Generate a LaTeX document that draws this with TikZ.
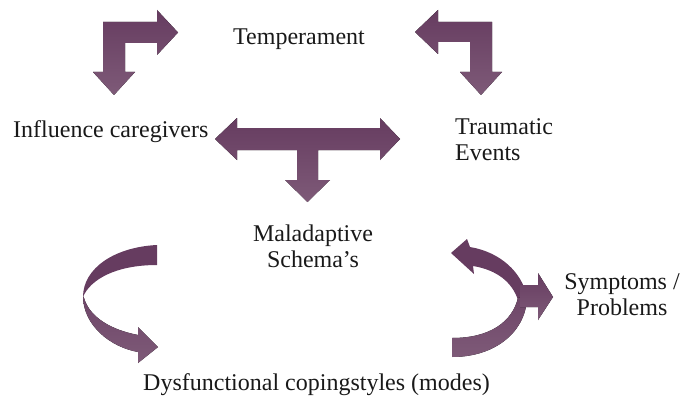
\documentclass[tikz,border=0pt]{standalone}
\usepackage{fontspec}
\setmainfont{Liberation Serif}
\begin{document}
\begin{tikzpicture}[x=1pt,y=-1pt,
  label/.style={inner sep=0pt,font=\fontsize{24}{25.5}\selectfont,text=black!90},
  blockarrow/.style={top color=arrdark,bottom color=arrlight,draw=none},
  bandA/.style={fill=arrdark,draw=none},
  bandB/.style={top color=arrmid,bottom color=arrlight,draw=none}]
\definecolor{arrdark}{RGB}{102,60,96}
\definecolor{arrmid}{RGB}{110,70,104}
\definecolor{arrlight}{RGB}{126,90,120}
\useasboundingbox (0,0) rectangle (687,401);

% labels (two-line labels are anchored on the baseline of their last line)
\node[label,anchor=base west] (temp) at (233,45) {Temperament};
\node[label,anchor=base west] (care) at (13,137) {Influence caregivers};
\node[label,anchor=base west,align=left] (trauma) at (455,160) {Traumatic\\Events};
\node[label,anchor=base,align=center] (schema) at (313,267) {Maladaptive\\Schema’s};
\node[label,anchor=base,align=center] (sympt) at (622,315) {Symptoms /\\Problems};
\node[label,anchor=base west] (coping) at (143,390) {Dysfunctional copingstyles (modes)};

% bent arrow, top left
\fill[blockarrow] (103,22) -- (157,22) -- (157,10) -- (178,32.5) -- (157,55) -- (157,43)
  -- (125,43) -- (125,72) -- (135,72) -- (114,95) -- (93,72) -- (103,72) -- cycle;

% bent arrow, top right
\fill[blockarrow] (492,22) -- (438,22) -- (438,10) -- (415,32) -- (438,54) -- (438,42)
  -- (470,42) -- (470,72) -- (460,72) -- (481,95) -- (502,72) -- (492,72) -- cycle;

% T-shaped arrow in the middle
\fill[blockarrow] (237,128) -- (237,118) -- (215,139) -- (237,160) -- (237,150)
  -- (297,150) -- (297,180) -- (285,180) -- (307.5,202) -- (330,180) -- (318,180)
  -- (318,150) -- (380,150) -- (380,160) -- (400,139) -- (380,118) -- (380,128) -- cycle;

% twisted curved arrow, left: upper band
\fill[bandA] (157,245) .. controls (115,247) and (83,268) .. (83,297)
  .. controls (90,280) and (115,265) .. (157,265) -- cycle;
% lower band with head
\fill[bandB] (83,296) .. controls (83,325) and (110,347) .. (138,352)
  -- (138,363) -- (158,347) -- (138,327) -- (138,335)
  .. controls (112,330) and (90,318) .. (84,298) -- cycle;

% curved arrow, right: upper band with head pointing back
\fill[bandA] (451,253) -- (467,239) -- (470,247)
  .. controls (500,252) and (522,272) .. (527,297) -- (518,300)
  .. controls (512,282) and (497,270) .. (473,266) -- (474,274) -- cycle;
% lower band
\fill[bandB] (527,296) .. controls (527,330) and (497,357) .. (452,357) -- (452,338)
  .. controls (490,338) and (512,322) .. (518,298) -- cycle;
% short arrow to the right
\fill[blockarrow] (520,285) -- (538,285) -- (538,273) -- (553,297) -- (538,320)
  -- (538,307) -- (520,307) -- cycle;
\end{tikzpicture}
\end{document}
